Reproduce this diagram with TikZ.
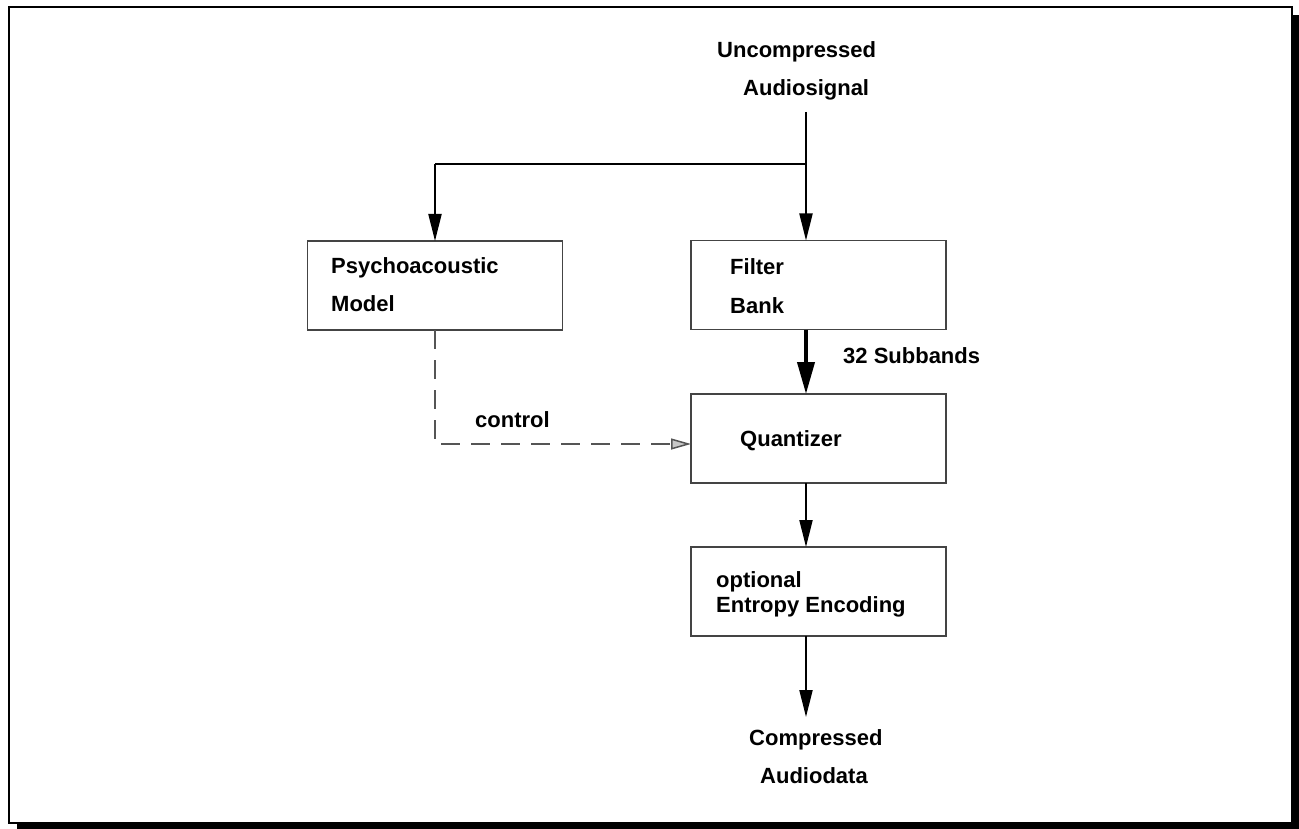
\documentclass[tikz,border=0pt]{standalone}
\usepackage{fontspec}
\setmainfont{Liberation Sans}
\usetikzlibrary{arrows.meta}
\definecolor{boxgray}{HTML}{444444}
\definecolor{dashgray}{HTML}{555555}
\definecolor{tipgray}{HTML}{C8C8C8}
\tikzset{
  blk/.style={draw=boxgray, line width=1.5pt, minimum width=255pt, minimum height=89pt, inner sep=0pt, outer sep=0pt},
  lbl/.style={anchor=base west, inner sep=0pt, font=\fontsize{22}{26}\selectfont\bfseries},
  arr/.style={line width=2pt, -{Triangle[length=27pt,width=13pt]}},
  thickarr/.style={line width=4pt, -{Triangle[length=32pt,width=17pt]}},
  ctrl/.style={draw=dashgray, line width=1.5pt, dash pattern=on 19pt off 11pt, -{Triangle[length=20pt,width=11pt,fill=tipgray]}},
}
\begin{document}
\begin{tikzpicture}[x=1pt,y=-1pt]
\useasboundingbox (0,0) rectangle (1299,829);
% frame with shadow
\fill[black] (17,15) rectangle (1299,829);
\draw[line width=2pt, fill=white] (9,7) rectangle (1292,823);
% boxes
\node[blk] (psy) at (435,285.5) {};
\node[blk] (filt) at (818.5,285) {};
\node[blk] (quant) at (818.5,438.5) {};
\node[blk] (ent) at (818.5,591.5) {};
% texts
\node[lbl] (t1) at (717,58) {Uncompressed};
\node[lbl] (t2) at (743,96) {Audiosignal};
\node[lbl] (psy1) at (331,273) {Psychoacoustic};
\node[lbl] (psy2) at (331,311) {Model};
\node[lbl] (f1) at (730,274) {Filter};
\node[lbl] (f2) at (730,313) {Bank};
\node[lbl] (sb) at (843,363) {32 Subbands};
\node[lbl] (ctl) at (475,427) {control};
\node[lbl] (q1) at (740,446) {Quantizer};
\node[lbl] (e1) at (716,587) {optional};
\node[lbl] (e2) at (716,612) {Entropy Encoding};
\node[lbl] (c1) at (749,745) {Compressed};
\node[lbl] (c2) at (760,783) {Audiodata};
% coordinates
\coordinate (top) at (806,112);
\coordinate (br) at (806,164);
\coordinate (qin) at (691,444);
\coordinate (out) at (806,717);
% connectors
\draw[arr] (top) -- (filt.north -| top);
\draw[line width=2pt] (br) -- (br -| psy.north);
\draw[arr] (br -| psy.north) -- (psy.north);
\draw[thickarr] (filt.south -| top) -- (quant.north -| top);
\draw[ctrl] (psy.south) |- (qin);
\draw[arr] (quant.south -| top) -- (ent.north -| top);
\draw[arr] (ent.south -| top) -- (out);
\end{tikzpicture}
\end{document}
